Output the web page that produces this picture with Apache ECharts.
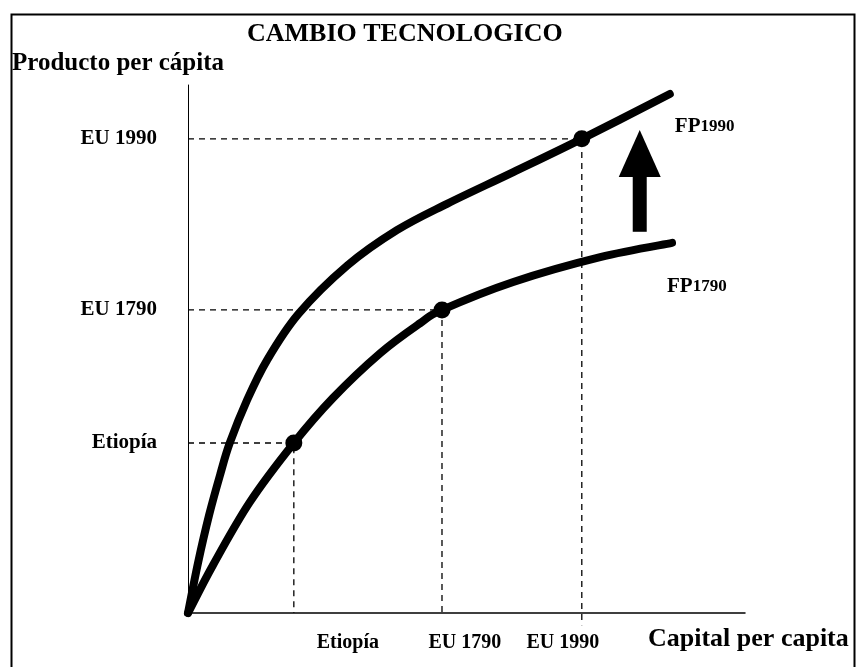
<!DOCTYPE html>
<html>
<head>
<meta charset="utf-8">
<script src="https://cdn.jsdelivr.net/npm/echarts@6/dist/echarts.min.js"></script>
<style>
  html, body { margin: 0; padding: 0; background: #fff; }
  #chart { width: 857px; height: 667px; }
</style>
</head>
<body>
<div id="chart"></div>
<script>
// ---- data (axis units: 0..100 on both axes) ----
const chartTitle = 'CAMBIO TECNOLOGICO';
const yAxisName = 'Producto per cápita';
const xAxisName = 'Capital per capita';

const tickNames = ['Etiopía', 'EU 1790', 'EU 1990'];
const pointX = [19.0, 45.6, 70.7];
const pointY = [32.2, 57.4, 89.8];
const xLabelAt = [28.7, 49.7, 67.3];
const guideBottom = [0, 0, -2.3];

const fp1790X = [0, 4.5, 11.1, 19.0, 26.0, 34.5, 41.7, 45.6, 58.4, 74.0, 86.9];
const fp1790Y = [0, 9.1, 21.0, 32.2, 40.7, 49.2, 54.9, 57.4, 62.7, 67.4, 70.1];

const fp1990X = [0, 1.8, 3.8, 5.8, 7.5, 10.6, 14.2, 19.8, 28.6, 37.5, 46.5, 58.4, 70.7, 86.5];
const fp1990Y = [0, 9.5, 18.6, 26.3, 32.2, 40.3, 47.9, 56.6, 65.8, 72.5, 77.5, 83.5, 89.8, 98.3];

const arrowX = 81.1, arrowFrom = 72.2, arrowTo = 91.5;

// ---- build ----
const FONT = '"Liberation Serif", "Times New Roman", serif';
const zip = (a, b) => a.map((v, i) => [v, b[i]]);
const nameFor = (vals, v) => {
  let best = 0;
  vals.forEach((x, i) => { if (Math.abs(x - v) < Math.abs(vals[best] - v)) best = i; });
  return tickNames[best];
};

const guideSeries = pointX.map((x, i) => ({
  type: 'line',
  silent: true,
  clip: false,
  symbol: 'none',
  z: 1,
  lineStyle: { color: '#000', width: 1.3, type: [6, 5] },
  data: [[0, pointY[i]], [x, pointY[i]], [x, guideBottom[i]]]
}));

const richFP = {
  a: { fontFamily: FONT, fontWeight: 'bold', fontSize: 21, fill: '#000', color: '#000' },
  b: { fontFamily: FONT, fontWeight: 'bold', fontSize: 17, fill: '#000', color: '#000' }
};

// smooth curve (Catmull-Rom through the data points, in pixel space)
function curveSeries(name, xs, ys, labelOffset) {
  return {
    type: 'custom', name: name, z: 3, clip: false, silent: true,
    encode: { x: 0, y: 1 },
    data: zip(xs, ys),
    renderItem: (params, api) => {
      if (params.dataIndexInside !== 0) return null;
      const n = params.dataInsideLength;
      const p = [];
      for (let i = 0; i < n; i++) p.push(api.coord([api.value(0, i), api.value(1, i)]));
      let d = 'M' + p[0][0] + ',' + p[0][1];
      for (let i = 0; i < n - 1; i++) {
        const p0 = p[Math.max(i - 1, 0)], p1 = p[i], p2 = p[i + 1], p3 = p[Math.min(i + 2, n - 1)];
        const c1 = [p1[0] + (p2[0] - p0[0]) / 6, p1[1] + (p2[1] - p0[1]) / 6];
        const c2 = [p2[0] - (p3[0] - p1[0]) / 6, p2[1] - (p3[1] - p1[1]) / 6];
        d += ' C' + c1[0] + ',' + c1[1] + ' ' + c2[0] + ',' + c2[1] + ' ' + p2[0] + ',' + p2[1];
      }
      const last = p[n - 1];
      return {
        type: 'group',
        children: [
          { type: 'path', shape: { pathData: d },
            style: { fill: 'none', stroke: '#000', lineWidth: 8, lineCap: 'round', lineJoin: 'round' } },
          { type: 'text', x: last[0] + labelOffset[0], y: last[1] + labelOffset[1],
            style: { text: '{a|FP}{b|' + name.slice(2) + '}', rich: richFP, verticalAlign: 'middle', align: 'left' } }
        ]
      };
    }
  };
}

const chart = echarts.init(document.getElementById('chart'), null, { renderer: 'canvas' });
chart.setOption({
  animation: false,
  backgroundColor: '#fff',
  title: [
    { text: chartTitle, left: 247, top: 21, padding: 0,
      textStyle: { fontFamily: FONT, fontSize: 26, fontWeight: 'bold', color: '#000' } },
    { text: yAxisName, left: 12, top: 51, padding: 0,
      textStyle: { fontFamily: FONT, fontSize: 25, fontWeight: 'bold', color: '#000' } },
    { text: xAxisName, left: 648, top: 626, padding: 0,
      textStyle: { fontFamily: FONT, fontSize: 26, fontWeight: 'bold', color: '#000' } }
  ],
  graphic: [
    { type: 'rect', left: 9, top: 12, shape: { width: 843, height: 700 }, silent: true,
      style: { fill: 'none', stroke: '#000', lineWidth: 2 } }
  ],
  grid: { left: 188, right: 112, top: 85, bottom: 54, containLabel: false, outerBoundsMode: 'none' },
  xAxis: {
    type: 'value', min: 0, max: 100,
    splitLine: { show: false },
    axisTick: { show: false },
    axisLine: { show: true, lineStyle: { color: '#000', width: 1.5 } },
    axisLabel: {
      customValues: xLabelAt,
      margin: 20,
      fontFamily: FONT, fontSize: 20, fontWeight: 'bold', color: '#000',
      formatter: (v) => nameFor(xLabelAt, v)
    }
  },
  yAxis: {
    type: 'value', min: 0, max: 100,
    splitLine: { show: false },
    axisTick: { show: false },
    axisLine: { show: true, lineStyle: { color: '#000', width: 1 } },
    axisLabel: {
      customValues: pointY,
      margin: 31,
      fontFamily: FONT, fontSize: 21, fontWeight: 'bold', color: '#000',
      formatter: (v) => nameFor(pointY, v)
    }
  },
  series: [
    ...guideSeries,
    curveSeries('FP1790', fp1790X, fp1790Y, [-5, 44]),
    curveSeries('FP1990', fp1990X, fp1990Y, [5, 33]),
    {
      type: 'scatter', symbol: 'circle', symbolSize: 17, z: 4, silent: true,
      itemStyle: { color: '#000', opacity: 1 }, data: zip(pointX, pointY)
    },
    {
      type: 'custom', z: 4, clip: false, silent: true,
      encode: { x: 0, y: [1, 2] },
      data: [[arrowX, arrowFrom, arrowTo]],
      renderItem: (params, api) => {
        const base = api.coord([api.value(0), api.value(1)]);
        const tip = api.coord([api.value(0), api.value(2)]);
        const headLen = 47, headHalf = 21, shaftHalf = 7;
        const hb = tip[1] + headLen;
        return {
          type: 'group',
          children: [
            { type: 'rect', shape: { x: base[0] - shaftHalf, y: hb - 1, width: shaftHalf * 2, height: base[1] - hb + 1 },
              style: { fill: '#000' } },
            { type: 'polygon', shape: { points: [[tip[0], tip[1]], [tip[0] - headHalf, hb], [tip[0] + headHalf, hb]] },
              style: { fill: '#000' } }
          ]
        };
      }
    }
  ]
});
</script>
</body>
</html>
